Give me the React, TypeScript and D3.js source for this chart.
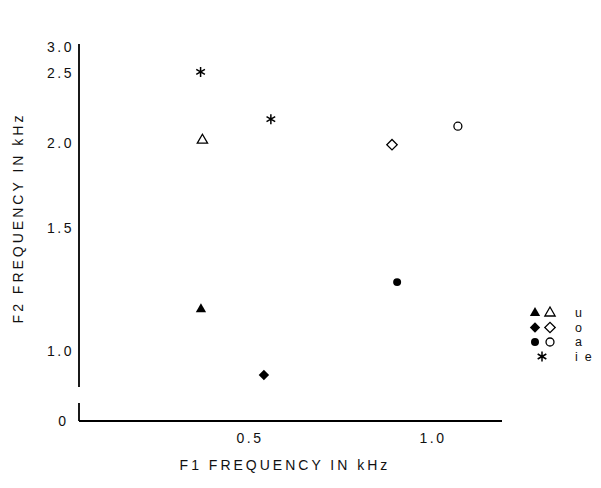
import React, { useEffect, useRef } from 'react';
import * as d3 from 'd3';

// F1 / F2 formant values in kHz
const filledVowels = ['u', 'o', 'a'];
const filledF1 = [0.366, 0.538, 0.902];
const filledF2 = [1.17, 0.9, 1.28];

const openVowels = ['u', 'o', 'a'];
const openF1 = [0.37, 0.888, 1.068];
const openF2 = [2.02, 1.99, 2.12];

const starF1 = [0.365, 0.557];
const starF2 = [2.52, 2.17];

const yTicks = [1.0, 1.5, 2.0, 2.5, 3.0];
const yTickLabels = ['1.0', '1.5', '2.0', '2.5', '3.0'];
const xTicks = [0.5, 1.0];
const xTickLabels = ['0.5', '1.0'];
const legendLabels = ['u', 'o', 'a', 'i  e'];

const FONT = '"Liberation Sans", Arial, sans-serif';

const App = () => {
  const svgRef = useRef<SVGSVGElement>(null);

  useEffect(() => {
    const svg = d3.select(svgRef.current);
    svg.selectAll('*').remove();

    const axisX = 79;
    const axisY = 421;

    const x = d3.scaleLinear().domain([0.5, 1.0]).range([250, 433]);
    // the F2 axis is warped (roughly logarithmic), so map it piece by piece
    const y = d3
      .scaleLinear()
      .domain([0.85, 1.0, 1.5, 2.0, 2.5, 3.0])
      .range([387, 351, 228, 143, 73, 47]);

    const shapes: Record<string, d3.SymbolType> = {
      u: d3.symbolTriangle,
      o: d3.symbolSquare,
      a: d3.symbolCircle,
    };
    const sizes: Record<string, number> = { u: 46, o: 54, a: 50 };
    const rot: Record<string, number> = { u: 0, o: 45, a: 0 };
    const sym = (v: string) => d3.symbol().type(shapes[v]).size(sizes[v])();
    const place = (v: string, px: number, py: number) =>
      `translate(${px},${py}) rotate(${rot[v]})`;

    // axes
    svg.append('line')
      .attr('x1', axisX).attr('x2', axisX)
      .attr('y1', 44).attr('y2', y(0.85))
      .attr('stroke', '#000').attr('stroke-width', 1.8);
    svg.append('line')
      .attr('x1', axisX).attr('x2', axisX)
      .attr('y1', 403).attr('y2', axisY)
      .attr('stroke', '#000').attr('stroke-width', 1.8);
    svg.append('line')
      .attr('x1', axisX).attr('x2', 502)
      .attr('y1', axisY).attr('y2', axisY)
      .attr('stroke', '#000').attr('stroke-width', 1.8);

    svg.append('g').selectAll('text')
      .data(yTicks)
      .join('text')
      .attr('x', 74)
      .attr('y', (d) => y(d))
      .attr('dy', '0.35em')
      .attr('text-anchor', 'end')
      .attr('font-family', FONT)
      .attr('font-size', 14)
      .attr('letter-spacing', 2.5)
      .attr('fill', '#111')
      .text((d, i) => yTickLabels[i]);

    svg.append('text')
      .attr('x', 66).attr('y', axisY).attr('dy', '0.35em')
      .attr('text-anchor', 'end')
      .attr('font-family', FONT).attr('font-size', 14)
      .attr('fill', '#111')
      .text('0');

    svg.append('g').selectAll('text')
      .data(xTicks)
      .join('text')
      .attr('x', (d) => x(d))
      .attr('y', 443)
      .attr('text-anchor', 'middle')
      .attr('font-family', FONT)
      .attr('font-size', 14)
      .attr('letter-spacing', 2.5)
      .attr('fill', '#111')
      .text((d, i) => xTickLabels[i]);

    // axis titles
    svg.append('text')
      .attr('x', 285).attr('y', 470)
      .attr('text-anchor', 'middle')
      .attr('font-family', FONT).attr('font-size', 14)
      .attr('letter-spacing', 3)
      .attr('fill', '#111')
      .text('F1 FREQUENCY IN kHz');

    svg.append('text')
      .attr('transform', 'translate(23,218) rotate(-90)')
      .attr('text-anchor', 'middle')
      .attr('font-family', FONT).attr('font-size', 14)
      .attr('letter-spacing', 3)
      .attr('fill', '#111')
      .text('F2 FREQUENCY IN kHz');

    // points
    svg.append('g').selectAll('path')
      .data(filledVowels)
      .join('path')
      .attr('d', (v) => sym(v))
      .attr('transform', (v, i) => place(v, x(filledF1[i]), y(filledF2[i])))
      .attr('fill', '#000');

    svg.append('g').selectAll('path')
      .data(openVowels)
      .join('path')
      .attr('d', (v) => sym(v))
      .attr('transform', (v, i) => place(v, x(openF1[i]), y(openF2[i])))
      .attr('fill', '#fff')
      .attr('stroke', '#000')
      .attr('stroke-width', 1.3);

    const star = d3.symbol().type(d3.symbolAsterisk).size(70)();
    svg.append('g').selectAll('path')
      .data(starF1)
      .join('path')
      .attr('d', star)
      .attr('transform', (d, i) => `translate(${x(d)},${y(starF2[i])})`)
      .attr('fill', 'none')
      .attr('stroke', '#000')
      .attr('stroke-width', 1.5);

    // legend
    const lg = svg.append('g').attr('transform', 'translate(535,313)');
    const rowH = 14.5;
    ['u', 'o', 'a'].forEach((v, i) => {
      lg.append('path')
        .attr('d', sym(v))
        .attr('transform', place(v, 0, i * rowH))
        .attr('fill', '#000');
      lg.append('path')
        .attr('d', sym(v))
        .attr('transform', place(v, 15, i * rowH))
        .attr('fill', '#fff')
        .attr('stroke', '#000')
        .attr('stroke-width', 1.3);
    });
    lg.append('path')
      .attr('d', star)
      .attr('transform', `translate(7,${3 * rowH})`)
      .attr('fill', 'none')
      .attr('stroke', '#000')
      .attr('stroke-width', 1.5);
    lg.selectAll('text.lab')
      .data(legendLabels)
      .join('text')
      .attr('class', 'lab')
      .attr('x', 40)
      .attr('y', (d, i) => i * rowH)
      .attr('dy', '0.35em')
      .attr('font-family', FONT)
      .attr('font-size', 12.5)
      .attr('fill', '#111')
      .style('white-space', 'pre')
      .text((d) => d);
  }, []);

  return (
    <svg
      ref={svgRef}
      width={601}
      height={488}
      style={{ position: 'absolute', left: 0, top: 0, background: '#fff' }}
    />
  );
};

export default App;
